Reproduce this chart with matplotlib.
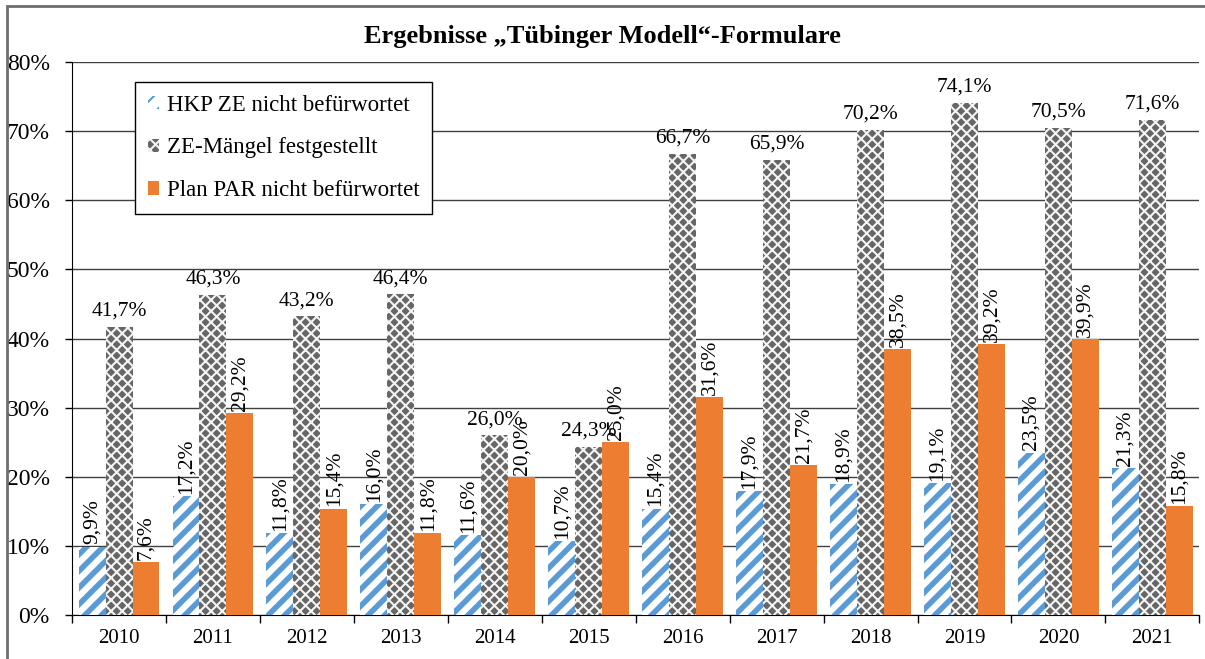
import matplotlib.pyplot as plt
from matplotlib.patches import Rectangle
import numpy as np

years = ["2010", "2011", "2012", "2013", "2014", "2015", "2016", "2017", "2018", "2019", "2020", "2021"]
hkp_ze = [9.9, 17.2, 11.8, 16.0, 11.6, 10.7, 15.4, 17.9, 18.9, 19.1, 23.5, 21.3]
ze_maengel = [41.7, 46.3, 43.2, 46.4, 26.0, 24.3, 66.7, 65.9, 70.2, 74.1, 70.5, 71.6]
plan_par = [7.6, 29.2, 15.4, 11.8, 20.0, 25.0, 31.6, 21.7, 38.5, 39.2, 39.9, 15.8]

plt.rcParams['font.family'] = ['Liberation Serif', 'DejaVu Serif']

fig = plt.figure(figsize=(12.05, 6.59), dpi=100)
ax = fig.add_axes([0.0598, 0.0668, 0.9355, 0.839])

# frame around the chart (only left and top edges visible in the picture)
fig.patches.append(Rectangle((7.5 / 1205, -0.05), 1.2, 1.05 - 6 / 659,
                             transform=fig.transFigure, fill=False,
                             edgecolor="#6e6e6e", linewidth=2))

x = np.arange(len(years))
w = 0.287

def fmt(v):
    return ("%.1f%%" % v).replace(".", ",")

# blue striped bars
plt.rcParams['hatch.linewidth'] = 4.0
b1 = ax.bar(x - w, hkp_ze, w, color="white", edgecolor="#5B9BD5", hatch="//",
            linewidth=0, label="HKP ZE nicht befürwortet", zorder=3)
for p in b1:
    if hasattr(p, "set_hatch_linewidth"):
        p.set_hatch_linewidth(4.0)

# gray checkered bars
plt.rcParams['hatch.linewidth'] = 1.5
b2 = ax.bar(x, ze_maengel, w, color="#666666", edgecolor="#f4f4f4", hatch="xxx",
            linewidth=0, label="ZE-Mängel festgestellt", zorder=3)
for p in b2:
    if hasattr(p, "set_hatch_linewidth"):
        p.set_hatch_linewidth(1.5)

b3 = ax.bar(x + w, plan_par, w, color="#ED7D31", linewidth=0,
            label="Plan PAR nicht befürwortet", zorder=3)

# value labels
fs = 15.5
for i in range(len(years)):
    ax.text(x[i] - w, hkp_ze[i] + 0.3, fmt(hkp_ze[i]), rotation=90,
            ha="center", va="bottom", fontsize=fs, zorder=4)
    ax.text(x[i], ze_maengel[i] + 0.9, fmt(ze_maengel[i]),
            ha="center", va="bottom", fontsize=fs, zorder=4)
    ax.text(x[i] + w, plan_par[i] + 0.3, fmt(plan_par[i]), rotation=90,
            ha="center", va="bottom", fontsize=fs, zorder=4)

ax.set_xlim(-0.5, len(years) - 0.5)
ax.set_ylim(0, 80)
ax.set_yticks(np.arange(0, 81, 10))
ax.set_yticklabels(["%d%%" % v for v in range(0, 81, 10)], fontsize=17)
ax.yaxis.grid(True, color="#404040", linewidth=1.0, zorder=0)
ax.set_axisbelow(True)

# ticks at group boundaries, labels at centers
ax.set_xticks(np.arange(-0.5, len(years), 1.0))
ax.set_xticklabels([])
ax.set_xticks(x, minor=True)
ax.set_xticklabels(years, minor=True, fontsize=15)
ax.tick_params(axis="x", which="minor", length=0, pad=10)
ax.tick_params(axis="x", which="major", length=6, width=1, direction="out")
ax.tick_params(axis="y", length=5, width=1, direction="out", pad=11)

for s in ["top", "right"]:
    ax.spines[s].set_visible(False)
ax.spines["left"].set_color("black")
ax.spines["bottom"].set_color("black")

leg = ax.legend(loc="upper left", bbox_to_anchor=(0.0559, 0.964), fontsize=16.5,
                frameon=True, fancybox=False, edgecolor="black", framealpha=1,
                handlelength=0.5, handleheight=0.5, handletextpad=0.35,
                labelspacing=0.95, borderpad=0.55, borderaxespad=0)
leg.get_frame().set_linewidth(1.0)

fig.text(0.5, 0.945, "Ergebnisse \u201eTübinger Modell\u201c-Formulare", ha="center",
         va="center", fontsize=19, fontweight="bold")

fig.savefig("out.png", dpi=100)
